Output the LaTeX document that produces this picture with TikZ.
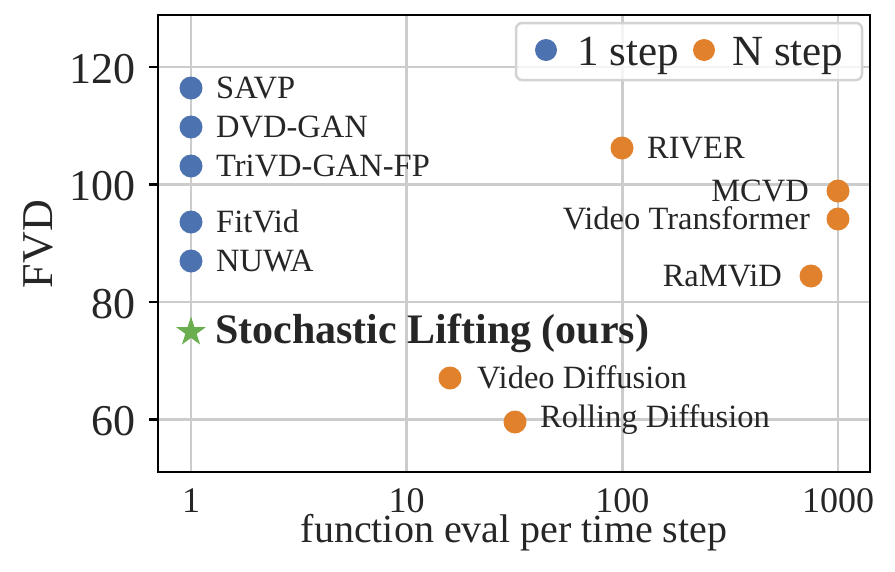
\documentclass[tikz,border=0pt]{standalone}
\usepackage{fontspec}
\setmainfont{Liberation Serif}
\usetikzlibrary{shapes.geometric}
\definecolor{sbblue}{HTML}{4C72B0}
\definecolor{sborange}{HTML}{E1812C}
\definecolor{sbgreen}{HTML}{6AAE4F}
\definecolor{txt}{HTML}{262626}
\definecolor{gridc}{HTML}{CCCCCC}
\definecolor{legc}{HTML}{D3D3D3}
\tikzset{
  gridline/.style={draw=gridc, line width=2.7pt},
  axframe/.style={draw=black, line width=2.5pt},
  ytickmark/.style={draw=black, line width=2.5pt},
  dotone/.style={circle, fill=sbblue, minimum size=23pt, inner sep=0pt},
  dotn/.style={circle, fill=sborange, minimum size=23pt, inner sep=0pt},
  oursstar/.style={star, star points=5, star point ratio=2.618, fill=sbgreen, minimum size=31pt, inner sep=0pt},
  ptlabel/.style={text=txt, font=\fontsize{32.5}{36}\selectfont, inner sep=0pt},
  ourslabel/.style={text=txt, font=\fontsize{42}{46}\bfseries\selectfont, inner sep=0pt},
  yticklabel/.style={text=txt, font=\fontsize{44}{48}\selectfont, inner sep=0pt, anchor=base east},
  xticklabel/.style={text=txt, font=\fontsize{36}{40}\selectfont, inner sep=0pt, anchor=base},
  axlabel/.style={text=txt, font=\fontsize{40}{44}\selectfont, inner sep=0pt, anchor=base},
  ylabelstyle/.style={text=txt, font=\fontsize{44}{48}\selectfont, inner sep=0pt, anchor=base, rotate=90},
  legtext/.style={text=txt, font=\fontsize{43}{47}\selectfont, inner sep=0pt, anchor=base west},
  legbox/.style={draw=legc, line width=2.5pt, fill=white, fill opacity=0.8, rounded corners=6pt}
}
\begin{document}
\begin{tikzpicture}[x=1pt,y=-1pt]
\useasboundingbox (0,0) rectangle (895,571);
\fill[white] (0,0) rectangle (895,571);
% grid
\begin{scope}
\clip (158,15) rectangle (870,472);
\foreach \gx in {191,406.7,622.4,838} {\draw[gridline] (\gx,15) -- (\gx,472);}
\foreach \gy in {67,184.5,302,419.5} {\draw[gridline] (158,\gy) -- (870,\gy);}
\end{scope}
% frame
\draw[axframe] (158,15) rectangle (870,472);
% y ticks
\foreach \gy/\lab in {67/120,184.5/100,302/80,419.5/60} {
  \draw[ytickmark] (149,\gy) -- (158,\gy);
  \node[yticklabel] at (136,\gy+16) {\lab};
}
% x tick labels
\node[xticklabel] (xt1) at (191,512) {1};
\node[xticklabel] (xt10) at (406.7,512) {10};
\node[xticklabel] (xt100) at (622.4,512) {100};
\node[xticklabel] (xt1000) at (838,512) {1000};
% axis labels
\node[axlabel] (xlab) at (514,542) {function eval per time step};
\node[ylabelstyle] (ylab) at (52,244) {FVD};
% 1 step points
\node[dotone] (savp) at (191,88) {};
\node[ptlabel, anchor=base west] (savpl) at (216,98) {SAVP};
\node[dotone] (dvd) at (191,127) {};
\node[ptlabel, anchor=base west] (dvdl) at (216,137) {DVD-GAN};
\node[dotone] (trivd) at (191,166) {};
\node[ptlabel, anchor=base west] (trivdl) at (216,176) {TriVD-GAN-FP};
\node[dotone] (fitvid) at (191,222) {};
\node[ptlabel, anchor=base west] (fitvidl) at (216,232) {FitVid};
\node[dotone] (nuwa) at (191,261) {};
\node[ptlabel, anchor=base west] (nuwal) at (216,271) {NUWA};
% ours
\node[oursstar] (ours) at (191,332) {};
\node[ourslabel, anchor=base west] (oursl) at (215,343) {Stochastic Lifting (ours)};
% N step points
\node[dotn] (river) at (622,148) {};
\node[ptlabel, anchor=base west] (riverl) at (647,158) {RIVER};
\node[dotn] (mcvd) at (838,191) {};
\node[ptlabel, anchor=base east] (mcvdl) at (809,201) {MCVD};
\node[dotn] (vt) at (838,219) {};
\node[ptlabel, anchor=base east] (vtl) at (810,229) {Video Transformer};
\node[dotn] (ramvid) at (811,276) {};
\node[ptlabel, anchor=base east] (ramvidl) at (782,286) {RaMViD};
\node[dotn] (vdiff) at (450,378) {};
\node[ptlabel, anchor=base west] (vdiffl) at (477,388) {Video Diffusion};
\node[dotn] (rdiff) at (515,422) {};
\node[ptlabel, anchor=base west] (rdiffl) at (540,427) {Rolling Diffusion};
% legend
\draw[legbox] (516,23) rectangle (862,80);
\node[dotone, minimum size=22pt] (legone) at (546,50) {};
\node[legtext] (legonel) at (577,65) {1 step};
\node[dotn, minimum size=22pt] (legn) at (704,50) {};
\node[legtext] (legnl) at (732,65) {N step};
\end{tikzpicture}
\end{document}
